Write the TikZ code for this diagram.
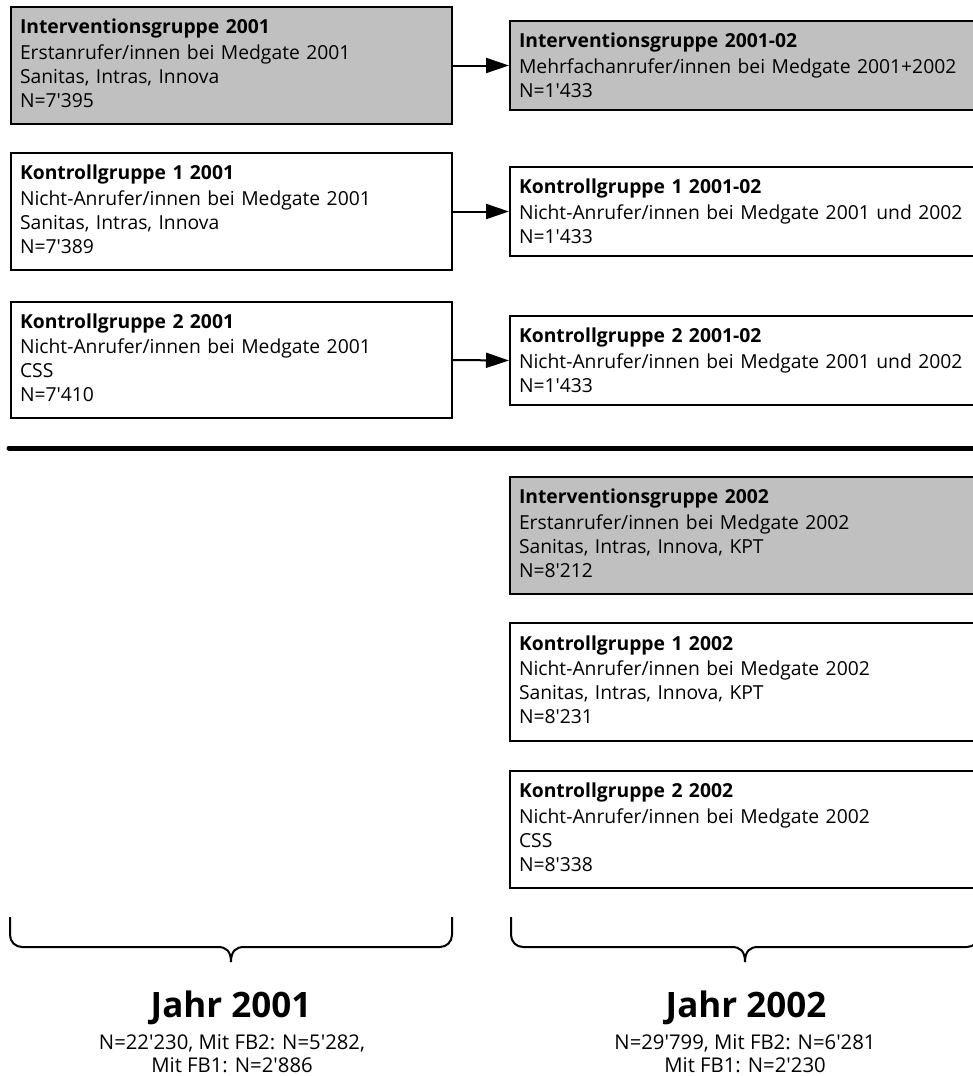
\documentclass[tikz,border=0pt]{standalone}
\usepackage{fontspec}
\setmainfont{Open Sans}[Ligatures=TeXOff]
\usetikzlibrary{arrows.meta}
\definecolor{boxgray}{HTML}{C0C0C0}
\newcommand\tailstrut{\rule[-5pt]{0pt}{5pt}}
\begin{document}
\begin{tikzpicture}[x=1pt,y=-1pt,
  boxbase/.style={draw=black, line width=2pt, inner xsep=9pt, inner ysep=0pt,
    align=left, font=\fontsize{19.3}{24}\selectfont},
  lbox/.style={boxbase, text width=423pt, minimum height=#1},
  rbox/.style={boxbase, text width=458pt, minimum height=#1},
  shaded/.style={fill=boxgray},
  conn/.style={line width=2pt, -{Triangle[length=23pt,width=15pt]}},
  bracestyle/.style={line width=2pt},
  bigyear/.style={anchor=base, font=\fontsize{35}{40}\selectfont\bfseries},
  subline/.style={anchor=base, font=\fontsize{20.3}{24}\selectfont}
]
\useasboundingbox (0,0) rectangle (973,1076);
\fill[white] (0,0) rectangle (973,1076);
\begin{scope}
\clip (0,0) rectangle (973,1076);

% left column (2001)
\node[lbox=117pt, shaded] (b1) at (231.5,65.5) {\textbf{Interventionsgruppe 2001}\\[1.5pt]Erstanrufer/innen bei Medgate 2001\\Sanitas, Intras, Innova\\N=7'395\tailstrut};
\node[lbox=117pt] (b3) at (231.5,211.5) {\textbf{Kontrollgruppe 1 2001}\\[1.5pt]Nicht-Anrufer/innen bei Medgate 2001\\Sanitas, Intras, Innova\\N=7'389\tailstrut};
\node[lbox=116pt] (b5) at (231.5,360) {\textbf{Kontrollgruppe 2 2001}\\[1.5pt]Nicht-Anrufer/innen bei Medgate 2001\\CSS\\N=7'410\tailstrut};

% right column (2001-02)
\node[rbox=89pt, shaded] (b2) at (748,65.5) {\textbf{Interventionsgruppe 2001-02}\\[1.5pt]Mehrfachanrufer/innen bei Medgate 2001+2002\\N=1'433};
\node[rbox=89pt] (b4) at (748,211.5) {\textbf{Kontrollgruppe 1 2001-02}\\[1.5pt]Nicht-Anrufer/innen bei Medgate 2001 und 2002\\N=1'433};
\node[rbox=89pt] (b6) at (748,360.5) {\textbf{Kontrollgruppe 2 2001-02}\\[1.5pt]Nicht-Anrufer/innen bei Medgate 2001 und 2002\\N=1'433};

\draw[conn] (b1.east) -- (b2.west);
\draw[conn] (b3.east) -- (b4.west);
\draw[conn] (b5.east) -- (b6.west);

% separator
\draw[line width=5pt, line cap=round] (9,448) -- (990,448);

% right column (2002)
\node[rbox=117pt, shaded] (b7) at (748,535.5) {\textbf{Interventionsgruppe 2002}\\[1.5pt]Erstanrufer/innen bei Medgate 2002\\Sanitas, Intras, Innova, KPT\\N=8'212\tailstrut};
\node[rbox=118pt] (b8) at (748,682) {\textbf{Kontrollgruppe 1 2002}\\[1.5pt]Nicht-Anrufer/innen bei Medgate 2002\\Sanitas, Intras, Innova, KPT\\N=8'231\tailstrut};
\node[rbox=117pt] (b9) at (748,829.5) {\textbf{Kontrollgruppe 2 2002}\\[1.5pt]Nicht-Anrufer/innen bei Medgate 2002\\CSS\\N=8'338\tailstrut};

% braces
\draw[bracestyle, rounded corners=12pt] (10,917) -- (10,947) -- (218,947);
\draw[bracestyle] (218,947) .. controls (226,947) and (231,951) .. (231,962)
  .. controls (231,951) and (236,947) .. (244,947);
\draw[bracestyle, rounded corners=12pt] (244,947) -- (452,947) -- (452,917);
\draw[bracestyle, rounded corners=12pt] (511,917) -- (511,947) -- (732,947);
\draw[bracestyle] (732,947) .. controls (740,947) and (745,951) .. (745,962)
  .. controls (745,951) and (750,947) .. (758,947);
\draw[bracestyle, rounded corners=12pt] (758,947) -- (979,947) -- (979,917);

% year labels
\node[bigyear] (y1) at (231,1017) {Jahr 2001};
\node[subline] (y1a) at (232,1049) {N=22'230, Mit FB2: N=5'282,};
\node[subline] (y1b) at (232,1072) {Mit FB1: N=2'886};
\node[bigyear] (y2) at (746,1017) {Jahr 2002};
\node[subline] (y2a) at (745,1049) {N=29'799, Mit FB2: N=6'281};
\node[subline] (y2b) at (745,1072) {Mit FB1: N=2'230};
\end{scope}
\end{tikzpicture}
\end{document}
